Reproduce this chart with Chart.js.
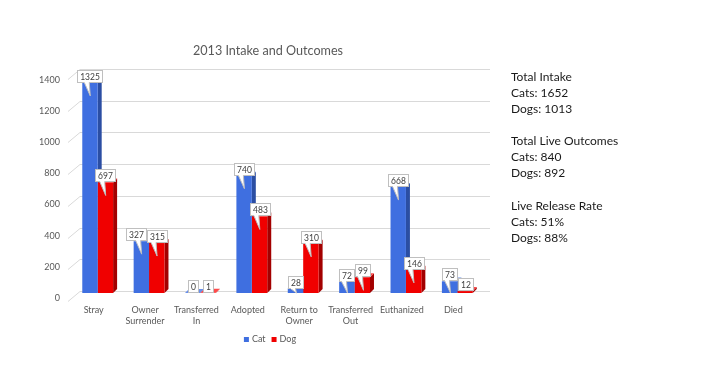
<!DOCTYPE html>
<html>
<head>
<meta charset="utf-8">
<script src="https://cdn.jsdelivr.net/npm/chart.js@4.4.0/dist/chart.umd.min.js"></script>
<style>
  html, body { margin: 0; background: #fff; }
  #wrap { position: relative; width: 710px; height: 375px; }
</style>
</head>
<body>
<div id="wrap"><canvas id="chartCanvas" width="710" height="375"></canvas></div>
<script>
const categories = [['Stray'], ['Owner', 'Surrender'], ['Transferred', 'In'], ['Adopted'], ['Return to', 'Owner'], ['Transferred', 'Out'], ['Euthanized'], ['Died']];
const catValues = [1325, 327, 0, 740, 28, 72, 668, 73];
const dogValues = [697, 315, 1, 483, 310, 99, 146, 12];
const yTicks = [0, 200, 400, 600, 800, 1000, 1200, 1400];

const statHeadings = ['Total Intake', 'Total Live Outcomes', 'Live Release Rate'];
const catStats = ['1652', '840', '51%'];
const dogStats = ['1013', '892', '88%'];

const chartTitle = '2013 Intake and Outcomes';
const FONT = 'Lato, "Liberation Sans", sans-serif';

// 3D look: side and top faces drawn behind the flat bars
const sideColors = ['#2b4ea3', '#a30000'];
const topColors = ['#6a90ea', '#ff4a4a'];
const dx = 4, dy = 4;

const pseudo3d = {
    id: 'pseudo3d',
    beforeDatasetsDraw(chart) {
        const ctx = chart.ctx;
        const area = chart.chartArea;
        const y = chart.scales.y;
        ctx.save();

        // back wall gridlines with a slanted floor edge
        ctx.strokeStyle = '#d9d9d9';
        ctx.lineWidth = 1;
        yTicks.forEach(v => {
            const py = Math.round(y.getPixelForValue(v)) - 0.5;
            ctx.beginPath();
            ctx.moveTo(area.left - 4, py + 9);
            ctx.lineTo(area.left + 8, py - 1);
            ctx.lineTo(area.right + 7, py - 1);
            ctx.stroke();
        });

        // y tick labels
        ctx.fillStyle = '#595959';
        ctx.font = '9px ' + FONT;
        ctx.textAlign = 'right';
        ctx.textBaseline = 'middle';
        yTicks.forEach(v => {
            const py = y.getPixelForValue(v);
            ctx.fillText(String(v), area.left - 12, py + 9 - (1 - v / 1400) * 4);
        });

        // side + top faces
        chart.data.datasets.forEach((ds, i) => {
            const meta = chart.getDatasetMeta(i);
            meta.data.forEach(bar => {
                const l = bar.x - bar.width / 2;
                const r = bar.x + bar.width / 2;
                const t = bar.y;
                const b = bar.base;
                ctx.fillStyle = sideColors[i];
                ctx.beginPath();
                ctx.moveTo(r, t);
                ctx.lineTo(r + dx, t - dy);
                ctx.lineTo(r + dx, b - dy);
                ctx.lineTo(r, b);
                ctx.closePath();
                ctx.fill();
                ctx.fillStyle = topColors[i];
                ctx.beginPath();
                ctx.moveTo(l, t);
                ctx.lineTo(l + dx, t - dy);
                ctx.lineTo(r + dx, t - dy);
                ctx.lineTo(r, t);
                ctx.closePath();
                ctx.fill();
            });
        });
        ctx.restore();
    },
    afterDatasetsDraw(chart) {
        const ctx = chart.ctx;
        ctx.save();
        ctx.font = '8.5px ' + FONT;
        ctx.textAlign = 'center';
        ctx.textBaseline = 'middle';

        // work out callout boxes first, then nudge collisions apart
        const catMeta = chart.getDatasetMeta(0);
        const dogMeta = chart.getDatasetMeta(1);
        const boxes = [[], []];
        [catMeta, dogMeta].forEach((meta, i) => {
            meta.data.forEach((bar, j) => {
                const text = String(chart.data.datasets[i].data[j]);
                const w = Math.round(ctx.measureText(text).width) + 5;
                const h = 12;
                boxes[i][j] = {
                    text, w, h, bar,
                    x: Math.round(bar.x - w / 2) + 0.5,
                    y: Math.round(bar.y - 1 - h) + 0.5
                };
            });
        });
        boxes[0].forEach((a, j) => {
            const b = boxes[1][j];
            const overlapY = a.y < b.y + b.h && b.y < a.y + a.h;
            if (overlapY && a.x + a.w > b.x - 1) {
                a.x -= (a.x + a.w) - (b.x - 1);
            }
        });

        boxes.forEach(list => list.forEach(bx => {
            const bar = bx.bar;
            const tipY = Math.min(bar.y + 13, bar.base);
            const px = Math.max(bx.x + 2, bar.x - bar.width / 2 + 2);

            ctx.fillStyle = '#fff';
            ctx.strokeStyle = '#bfbfbf';
            ctx.lineWidth = 1;
            ctx.fillRect(bx.x, bx.y, bx.w, bx.h);
            ctx.strokeRect(bx.x, bx.y, bx.w, bx.h);

            if (tipY - (bx.y + bx.h) > 3) {
                ctx.beginPath();
                ctx.moveTo(px, bx.y + bx.h);
                ctx.lineTo(px + 6, tipY);
                ctx.lineTo(px + 5, bx.y + bx.h);
                ctx.closePath();
                ctx.fill();
                ctx.beginPath();
                ctx.moveTo(px, bx.y + bx.h);
                ctx.lineTo(px + 6, tipY);
                ctx.lineTo(px + 5, bx.y + bx.h);
                ctx.stroke();
                ctx.fillRect(px + 0.5, bx.y + bx.h - 1, 4, 1.5);
            }

            ctx.fillStyle = '#404040';
            ctx.fillText(bx.text, bx.x + bx.w / 2, bx.y + bx.h / 2 + 0.5);
        }));
        ctx.restore();
    },
    afterDraw(chart) {
        const ctx = chart.ctx;
        ctx.save();

        // title
        ctx.fillStyle = '#595959';
        ctx.font = '12.6px ' + FONT;
        ctx.textAlign = 'center';
        ctx.textBaseline = 'middle';
        ctx.fillText(chartTitle, 268, 51);

        // legend
        ctx.font = '9px ' + FONT;
        ctx.textAlign = 'left';
        const items = chart.data.datasets.map(ds => ({ label: ds.label, color: ds.backgroundColor }));
        const widths = items.map(it => 5 + 3 + ctx.measureText(it.label).width);
        const total = widths.reduce((a, b) => a + b, 0) + 6 * (items.length - 1);
        let lx = 270 - total / 2;
        items.forEach((it, k) => {
            ctx.fillStyle = it.color;
            ctx.fillRect(lx, 337, 5, 5);
            ctx.fillStyle = '#595959';
            ctx.fillText(it.label, lx + 8, 339.5);
            lx += widths[k] + 6;
        });

        // summary panel on the right
        ctx.fillStyle = '#1a1a1a';
        ctx.font = '12px ' + FONT;
        let row = 0;
        statHeadings.forEach((head, k) => {
            const lines = [head, 'Cats: ' + catStats[k], 'Dogs: ' + dogStats[k]];
            lines.forEach(line => {
                ctx.fillText(line, 511, 77 + row * 16.1);
                row++;
            });
            row++;
        });
        ctx.restore();
    }
};

new Chart(document.getElementById('chartCanvas'), {
    type: 'bar',
    data: {
        labels: categories,
        datasets: [
            { label: 'Cat', data: catValues, backgroundColor: '#3f6fe0', borderWidth: 0 },
            { label: 'Dog', data: dogValues, backgroundColor: '#f00000', borderWidth: 0 }
        ]
    },
    options: {
        responsive: false,
        animation: false,
        layout: { padding: { left: 72, right: 227, top: 71, bottom: 42 } },
        datasets: {
            bar: { categoryPercentage: 0.6, barPercentage: 1.0 }
        },
        scales: {
            y: {
                display: false,
                min: 0,
                max: 1400
            },
            x: {
                grid: { display: false },
                border: { display: false },
                ticks: {
                    color: '#595959',
                    font: { size: 9, family: FONT },
                    padding: 4,
                    labelOffset: -4,
                    maxRotation: 0,
                    autoSkip: false
                },
                afterFit: function (scale) {
                    scale.height = 40;
                }
            }
        },
        plugins: {
            legend: { display: false },
            title: { display: false },
            tooltip: { enabled: false }
        }
    },
    plugins: [pseudo3d]
});
</script>
</body>
</html>
